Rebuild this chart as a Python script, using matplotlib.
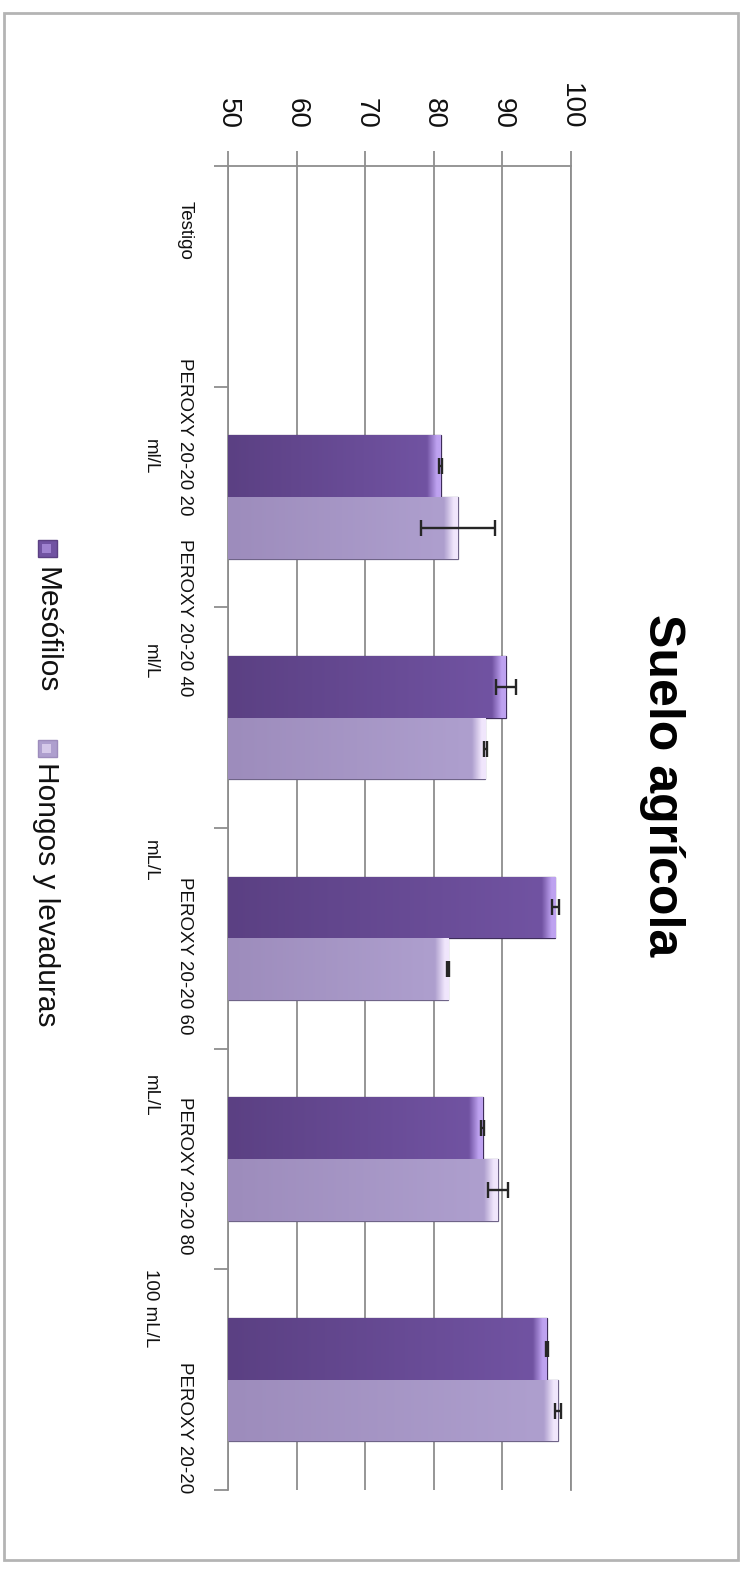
import numpy as np
import matplotlib
matplotlib.use("Agg")
import matplotlib.pyplot as plt
import matplotlib.transforms as mtransforms
from matplotlib.patches import Rectangle
from matplotlib.colors import to_rgb

plt.rcParams['font.family'] = ['Liberation Sans', 'DejaVu Sans']

# ---- data ----
categories_line1 = ["Testigo", "PEROXY 20-20 20", "PEROXY 20-20 40",
                    "PEROXY 20-20 60", "PEROXY 20-20 80", "PEROXY 20-20"]
categories_line2 = ["", "ml/L", "ml/L", "mL/L", "mL/L", "100 mL/L"]
mesofilos = [0, 81.0, 90.5, 97.7, 87.1, 96.5]
mesofilos_err = [0, 0.2, 1.5, 0.5, 0.2, 0.2]
hongos = [0, 83.5, 87.5, 82.1, 89.3, 98.1]
hongos_err = [0, 5.35, 0.2, 0.15, 1.45, 0.45]
series_names = ["Mesófilos", "Hongos y levaduras"]
value_ticks = [50, 60, 70, 80, 90, 100]

# ---- layout / style ----
W, H = 741, 1573
fig = plt.figure(figsize=(W / 100, H / 100), dpi=100)
ax_l, ax_r, ax_t, ax_b = 228, 571, 166, 1490
ax = fig.add_axes([ax_l / W, 1 - ax_b / H, (ax_r - ax_l) / W, (ax_b - ax_t) / H])

grid_col = '#8e8e8e'
mes_cols = ('#5b4083', '#7153a2', '#bea2f0')
hon_cols = ('#9d8cbc', '#ae9fce', '#f0e6fc')
bar_h = 0.28
bevel = 2.0

y = np.arange(len(categories_line1))


def grad_bars(bars, cols):
    c0, c1, c2 = [np.array(to_rgb(c)) for c in cols]
    for b in bars:
        bb = b.get_bbox()
        x1 = bb.x1
        if x1 <= 50:
            continue
        xs = np.linspace(50, x1, 400)
        img = np.zeros((1, len(xs), 3))
        for i, xv in enumerate(xs):
            if xv < x1 - bevel:
                t = (xv - 50) / max(x1 - bevel - 50, 1e-6)
                img[0, i] = c0 + (c1 - c0) * t
            else:
                t = (xv - (x1 - bevel)) / bevel
                img[0, i] = c1 + (c2 - c1) * min(t * 1.4, 1.0)
        im = ax.imshow(img, extent=[50, x1, bb.y1, bb.y0], aspect='auto',
                       interpolation='bilinear', zorder=3)
        im.set_clip_path(b)


b1 = ax.barh(y - bar_h / 2, mesofilos, height=bar_h, left=0, color=mes_cols[1],
             edgecolor='#3e2d5a', linewidth=0.9, zorder=2)
b2 = ax.barh(y + bar_h / 2, hongos, height=bar_h, left=0, color=hon_cols[1],
             edgecolor='#6f6488', linewidth=0.9, zorder=2)
grad_bars(b1, mes_cols)
grad_bars(b2, hon_cols)

idx = [i for i in range(len(y)) if mesofilos[i] > 0]
ax.errorbar([mesofilos[i] for i in idx], [y[i] - bar_h / 2 for i in idx],
            xerr=[mesofilos_err[i] for i in idx], fmt='none', ecolor='#262626',
            elinewidth=1.7, capsize=5.5, capthick=1.7, zorder=5)
idx = [i for i in range(len(y)) if hongos[i] > 0]
ax.errorbar([hongos[i] for i in idx], [y[i] + bar_h / 2 for i in idx],
            xerr=[hongos_err[i] for i in idx], fmt='none', ecolor='#262626',
            elinewidth=1.7, capsize=5.5, capthick=1.7, zorder=5)

ax.set_xlim(50, 100)
ax.set_ylim(len(y) - 0.5, -0.5)

ax.xaxis.tick_top()
ax.set_xticks(value_ticks)
ax.set_xticklabels([str(v) for v in value_ticks])
ax.tick_params(axis='x', direction='out', length=11, width=1.3, color=grid_col,
               labelsize=20, labelrotation=-90, pad=15.5, labelcolor='#111111')
ax.xaxis.grid(True, color=grid_col, linewidth=1.3)
ax.set_axisbelow(True)

ax.set_yticks(y)
ax.set_yticklabels([])
ax.tick_params(axis='y', which='major', length=0)
ax.set_yticks(np.arange(len(y) + 1) - 0.5, minor=True)
ax.tick_params(axis='y', which='minor', direction='out', length=10, width=1.3,
               color=grid_col)

for s in ['left', 'top', 'right']:
    ax.spines[s].set_color(grid_col)
    ax.spines[s].set_linewidth(1.3)
ax.spines['bottom'].set_visible(False)

# category labels (two lines, rotated as in the reference)
tr = mtransforms.blended_transform_factory(fig.transFigure, ax.transData)
px_per_cat = (ax_b - ax_t) / len(y)
off1 = [-46, -60, -100, 17, 17, 48]
off2 = [0, -40, -56, -78, -63, -72]
for i in range(len(y)):
    ax.text(185 / W, y[i] + off1[i] / px_per_cat, categories_line1[i], transform=tr,
            rotation=-90, ha='center', va='center', fontsize=13.5, color='#111111')
    if categories_line2[i]:
        ax.text(150 / W, y[i] + off2[i] / px_per_cat, categories_line2[i], transform=tr,
                rotation=-90, ha='center', va='center', fontsize=13.5, color='#111111')

# title
fig.text(662 / W, 1 - 785 / H, "Suelo agrícola", rotation=-90, ha='center',
         va='center', fontsize=36, fontweight='bold', color='#000000')

# legend (rotated)
leg_items = [(540, 567, mes_cols), (740, 762, hon_cols)]
for name, (sq_y, txt_y, cols) in zip(series_names, leg_items):
    fig.patches.append(Rectangle((38 / W, 1 - (sq_y + 17) / H), 19 / W, 17 / H,
                                 transform=fig.transFigure, facecolor=cols[1],
                                 edgecolor=cols[0], linewidth=1))
    fig.patches.append(Rectangle((42 / W, 1 - (sq_y + 13) / H), 9 / W, 9 / H,
                                 transform=fig.transFigure, facecolor=cols[2],
                                 edgecolor='none', alpha=0.6))
    fig.text(46 / W, 1 - txt_y / H, name, rotation=-90, ha='center', va='top',
             fontsize=21.5, color='#111111')

# outer frame
fig.patches.append(Rectangle((4 / W, 1 - 1560 / H), 734 / W, 1547 / H,
                             transform=fig.transFigure, facecolor='none',
                             edgecolor='#b4b4b4', linewidth=2))

fig.savefig("out.png", dpi=100)
